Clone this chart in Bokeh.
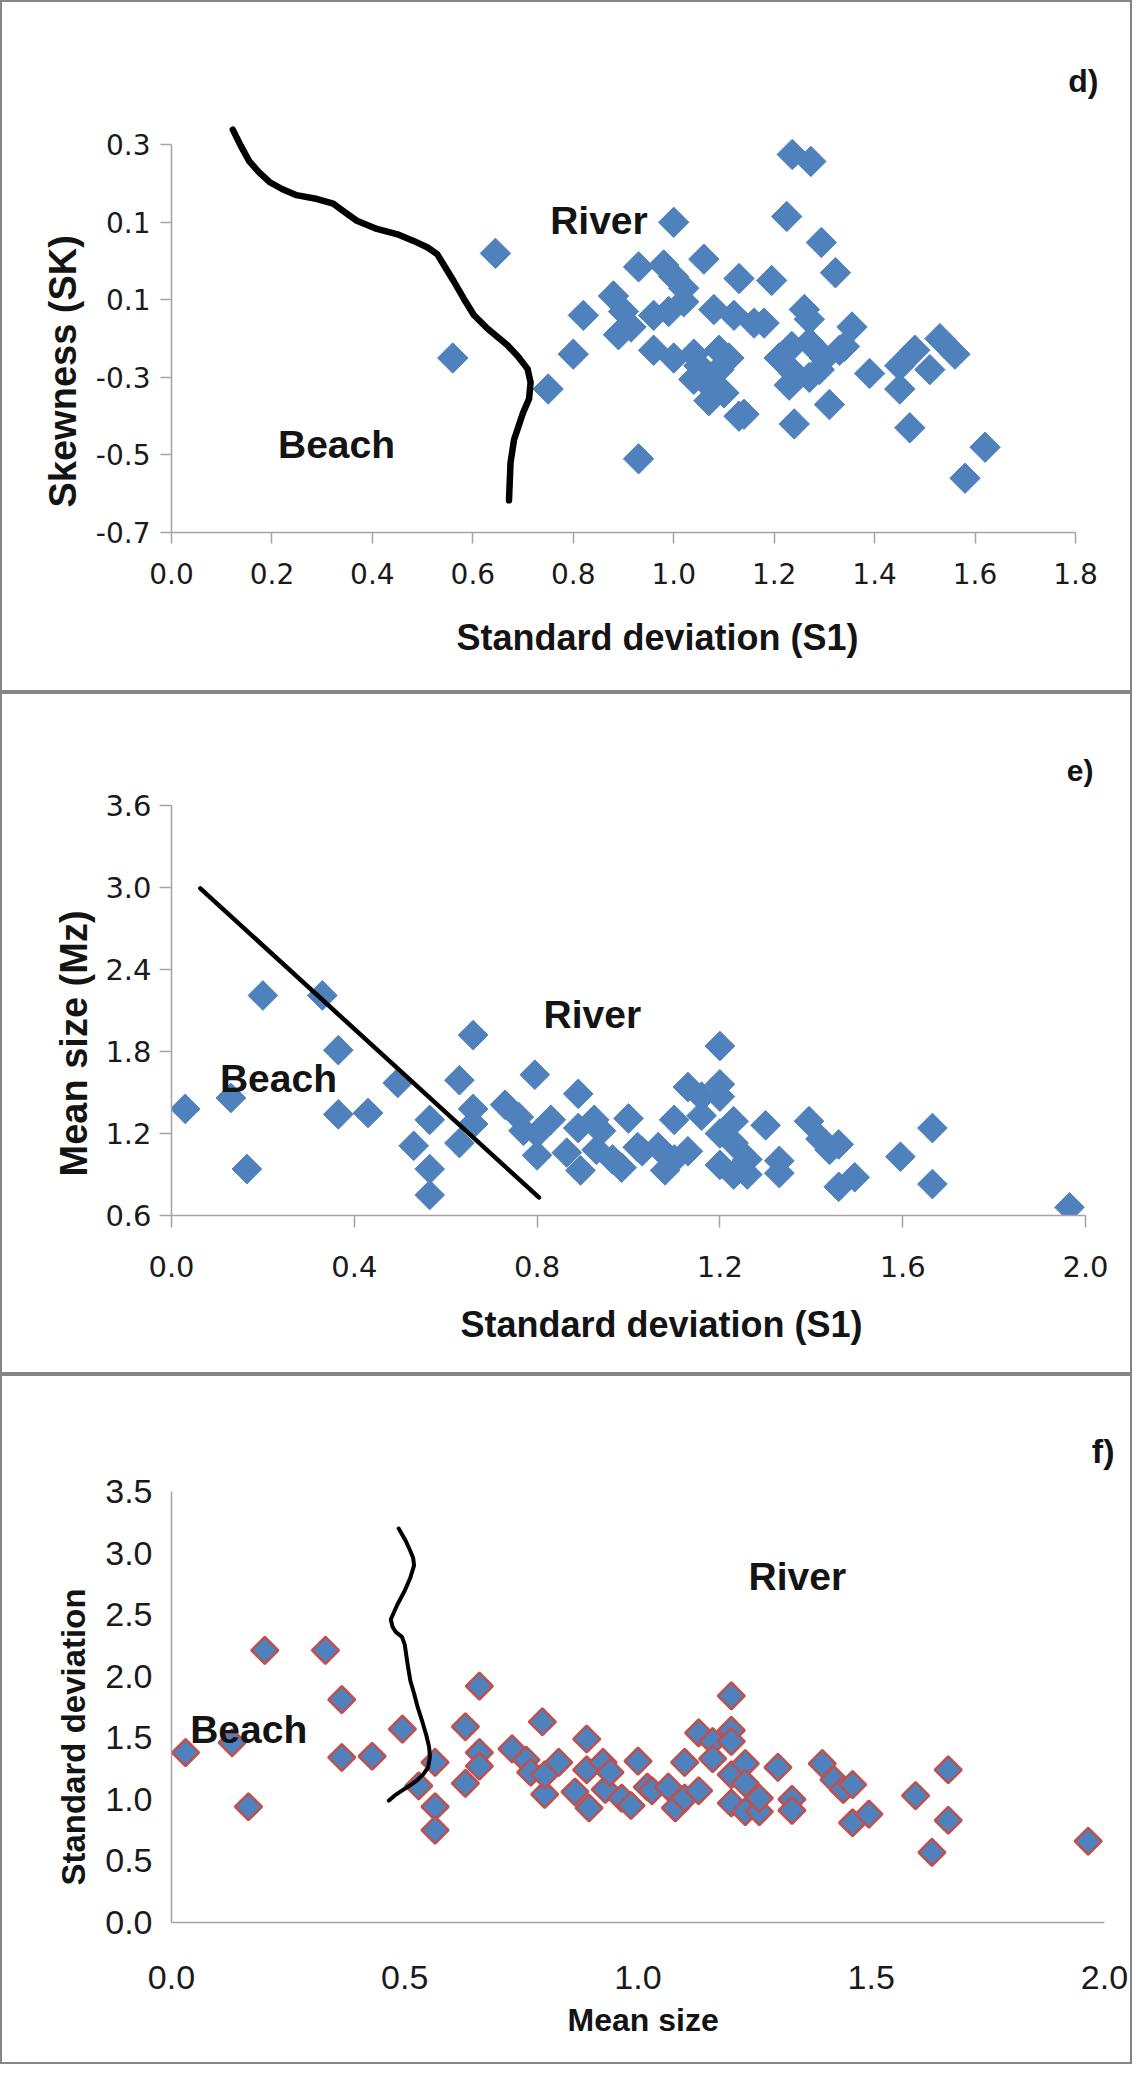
import math
from bokeh.plotting import figure
from bokeh.layouts import column
from bokeh.models import Range1d, FixedTicker, Label, Title
from bokeh.embed import file_html
from bokeh.resources import INLINE

# ---------------- data: panel d) ----------------
d_std_dev = [0.56, 0.645, 0.75, 0.80, 0.82, 0.88, 0.90, 0.89, 0.915, 0.93,
             0.93, 0.96, 0.96, 0.98, 0.99, 1.00, 1.00, 1.00, 1.02, 1.02,
             1.04, 1.04, 1.06, 1.05, 1.07, 1.07, 1.08, 1.09, 1.09, 1.10,
             1.11, 1.12, 1.13, 1.13, 1.14, 1.16, 1.18, 1.195, 1.21, 1.225,
             1.23, 1.235, 1.236, 1.24, 1.24, 1.26, 1.27, 1.27, 1.27, 1.273,
             1.29, 1.294, 1.30, 1.31, 1.322, 1.33, 1.34, 1.355, 1.39, 1.45,
             1.45, 1.47, 1.48, 1.51, 1.53, 1.56, 1.58, 1.62]
d_skewness = [-0.25, 0.02, -0.33, -0.24, -0.14, -0.09, -0.13, -0.19, -0.17, -0.015,
              -0.51, -0.14, -0.23, -0.01, -0.13, -0.25, -0.04, 0.10, -0.07, -0.105,
              -0.24, -0.305, 0.005, -0.27, -0.32, -0.36, -0.125, -0.23, -0.28, -0.34,
              -0.25, -0.14, -0.045, -0.40, -0.395, -0.16, -0.16, -0.05, -0.25, 0.115,
              -0.32, -0.22, 0.275, -0.29, -0.42, -0.125, -0.15, -0.21, -0.30, 0.257,
              -0.28, 0.048, -0.25, -0.37, -0.03, -0.23, -0.22, -0.17, -0.29, -0.27,
              -0.33, -0.43, -0.23, -0.28, -0.20, -0.24, -0.56, -0.48]
d_boundary_x = [0.122, 0.138, 0.155, 0.175, 0.195, 0.220, 0.249, 0.290, 0.322, 0.345,
                0.369, 0.409, 0.450, 0.482, 0.510, 0.529, 0.545, 0.562, 0.582, 0.602,
                0.629, 0.669, 0.690, 0.709, 0.715, 0.712, 0.700, 0.682, 0.675, 0.672]
d_boundary_y = [0.339, 0.297, 0.257, 0.228, 0.204, 0.186, 0.170, 0.160, 0.148, 0.126,
                0.104, 0.083, 0.069, 0.052, 0.035, 0.018, -0.016, -0.052, -0.097, -0.139,
                -0.174, -0.217, -0.246, -0.278, -0.313, -0.355, -0.391, -0.461, -0.521, -0.617]
d_x_ticks = [0.0, 0.2, 0.4, 0.6, 0.8, 1.0, 1.2, 1.4, 1.6, 1.8]
d_x_tick_labels = ["0.0", "0.2", "0.4", "0.6", "0.8", "1.0", "1.2", "1.4", "1.6", "1.8"]
d_y_ticks = [0.3, 0.1, -0.1, -0.3, -0.5, -0.7]
d_y_tick_labels = ["0.3", "0.1", "0.1", "-0.3", "-0.5", "-0.7"]

# ---------------- data: panels e) and f) (same plotted points) ----------------
ef_x = [0.03, 0.13, 0.165, 0.20, 0.33, 0.365, 0.365, 0.43, 0.495, 0.53,
        0.565, 0.565, 0.565, 0.63, 0.63, 0.66, 0.66, 0.66, 0.73, 0.76,
        0.77, 0.795, 0.80, 0.80, 0.83, 0.865, 0.89, 0.89, 0.895, 0.925,
        0.93, 0.94, 0.965, 0.985, 1.00, 1.02, 1.03, 1.065, 1.08, 1.10,
        1.10, 1.13, 1.13, 1.16, 1.16, 1.20, 1.20, 1.20, 1.20, 1.20,
        1.23, 1.23, 1.23, 1.26, 1.26, 1.30, 1.33, 1.33, 1.395, 1.42,
        1.44, 1.46, 1.46, 1.495, 1.595, 1.665, 1.665, 1.63, 1.965]
ef_y = [1.38, 1.46, 0.94, 2.21, 2.21, 1.81, 1.34, 1.35, 1.57, 1.11,
        1.30, 0.94, 0.75, 1.59, 1.13, 1.92, 1.38, 1.27, 1.41, 1.32,
        1.22, 1.63, 1.04, 1.20, 1.30, 1.06, 1.49, 1.24, 0.93, 1.30,
        1.08, 1.22, 1.01, 0.95, 1.31, 1.10, 1.07, 1.10, 0.93, 1.01,
        1.30, 1.07, 1.54, 1.47, 1.33, 1.84, 1.56, 1.47, 1.20, 0.97,
        1.29, 1.13, 0.90, 0.90, 1.01, 1.26, 1.00, 0.91, 1.29, 1.16,
        1.08, 1.12, 0.81, 0.88, 1.03, 1.24, 0.83, 0.57, 0.66]
e_boundary_x = [0.063, 0.804]
e_boundary_y = [2.994, 0.732]
e_x_ticks = [0.0, 0.4, 0.8, 1.2, 1.6, 2.0]
e_x_tick_labels = ["0.0", "0.4", "0.8", "1.2", "1.6", "2.0"]
e_y_ticks = [0.6, 1.2, 1.8, 2.4, 3.0, 3.6]
e_y_tick_labels = ["0.6", "1.2", "1.8", "2.4", "3.0", "3.6"]

f_boundary_x = [0.487, 0.502, 0.512, 0.518, 0.520, 0.512, 0.500, 0.484, 0.470, 0.474,
                0.481, 0.494, 0.500, 0.506, 0.512, 0.520, 0.527, 0.537, 0.546, 0.552,
                0.554, 0.550, 0.540, 0.527, 0.510, 0.493, 0.478, 0.466]
f_boundary_y = [3.199, 3.100, 3.017, 2.960, 2.900, 2.800, 2.695, 2.580, 2.461, 2.400,
                2.358, 2.320, 2.256, 2.100, 1.963, 1.860, 1.758, 1.640, 1.523, 1.430,
                1.347, 1.260, 1.205, 1.157, 1.110, 1.069, 1.030, 0.990]
f_x_ticks = [0.0, 0.5, 1.0, 1.5, 2.0]
f_x_tick_labels = ["0.0", "0.5", "1.0", "1.5", "2.0"]
f_y_ticks = [0.0, 0.5, 1.0, 1.5, 2.0, 2.5, 3.0, 3.5]
f_y_tick_labels = ["0.0", "0.5", "1.0", "1.5", "2.0", "2.5", "3.0", "3.5"]

assert len(d_std_dev) == len(d_skewness)
assert len(ef_x) == len(ef_y)
assert len(d_boundary_x) == len(d_boundary_y)
assert len(f_boundary_x) == len(f_boundary_y)

# ---------------- style ----------------
BLUE = "#4F81BD"
RED = "#C0504D"
AXIS_GREY = "#a3a3a3"
BORDER = "2px solid #858585"
BOLD_FONT = "Liberation Sans"
TEXT_COLOR = "#141414"


def make_fig(xr, yr, fw, fh, left, right, top, bottom):
    p = figure(frame_width=fw, frame_height=fh, x_range=Range1d(*xr), y_range=Range1d(*yr),
               min_border_left=left, min_border_right=right, min_border_top=top,
               min_border_bottom=bottom, output_backend="svg", toolbar_location=None)
    p.outline_line_color = None
    p.grid.visible = False
    p.background_fill_color = "white"
    p.border_fill_color = "white"
    p.styles = {"border": BORDER}
    return p


def style_axes(p, xt, xl, yt, yl, font, size, tick_out, xstand, ystand):
    for ax, ticks, labels, stand in ((p.xaxis[0], xt, xl, xstand), (p.yaxis[0], yt, yl, ystand)):
        ax.ticker = FixedTicker(ticks=ticks)
        ax.major_label_overrides = dict(zip(ticks, labels))
        ax.axis_line_color = AXIS_GREY
        ax.axis_line_width = 1.5
        ax.major_tick_line_color = AXIS_GREY if tick_out > 0 else None
        ax.major_tick_line_width = 1.5
        ax.major_tick_out = tick_out
        ax.major_tick_in = 0
        ax.minor_tick_line_color = None
        ax.major_label_text_font = font
        ax.major_label_text_font_size = f"{size}px"
        ax.major_label_text_color = "#1a1a1a"
        ax.major_label_standoff = stand


def add_text(p, x, y, text, size):
    p.add_layout(Label(x=x, y=y, text=text, text_font=BOLD_FONT, text_font_style="bold",
                       text_font_size=f"{size}px", text_color=TEXT_COLOR, text_align="left",
                       text_baseline="alphabetic"))


def set_titles(p, letter, letter_size, letter_offset, letter_standoff,
               xtitle, xsize, xoffset, xstandoff, ytitle, ysize, yoffset, ystandoff):
    t = p.title
    t.text = letter
    t.align = "right"
    t.offset = letter_offset
    t.standoff = letter_standoff
    t.text_font = BOLD_FONT
    t.text_font_style = "bold"
    t.text_font_size = f"{letter_size}px"
    t.text_color = TEXT_COLOR
    p.add_layout(Title(text=xtitle, align="left", offset=xoffset, standoff=xstandoff,
                       text_font=BOLD_FONT, text_font_style="bold",
                       text_font_size=f"{xsize}px", text_color=TEXT_COLOR), "below")
    p.add_layout(Title(text=ytitle, align="left", offset=yoffset, standoff=ystandoff,
                       text_font=BOLD_FONT, text_font_style="bold",
                       text_font_size=f"{ysize}px", text_color=TEXT_COLOR), "left")


# ---------------- panel d ----------------
pd_ = make_fig((0.0, 1.8), (-0.7, 0.36), 900, 407, 169, 59, 119, 162)
pd_.scatter(d_std_dev, d_skewness, marker="square", angle=math.pi / 4, size=21.5,
            fill_color=BLUE, line_color=BLUE, line_width=1)
pd_.line(d_boundary_x, d_boundary_y, line_color="black", line_width=6.5,
         line_join="round", line_cap="round")
style_axes(pd_, d_x_ticks, d_x_tick_labels, d_y_ticks, d_y_tick_labels,
           "DejaVu Sans", 28, 11, 19, 10)
pd_.yaxis[0].bounds = (-0.7, 0.3)
add_text(pd_, 0.754, 0.104, "River", 39)
add_text(pd_, 0.212, -0.473, "Beach", 39)
set_titles(pd_, "d)", 32, -23, 46,
           "Standard deviation (S1)", 36, 285, 57,
           "Skewness (SK)", 38, 25, 17)

# ---------------- panel e ----------------
e_keep = [i for i in range(len(ef_x)) if ef_y[i] >= e_y_ticks[0]]
pe = make_fig((0.0, 2.0), (0.6, 3.6), 910, 406, 169, 49, 111, 161)
pe.scatter([ef_x[i] for i in e_keep], [ef_y[i] for i in e_keep], marker="square",
           angle=math.pi / 4, size=21, fill_color=BLUE, line_color=BLUE, line_width=1)
pe.line(e_boundary_x, e_boundary_y, line_color="black", line_width=4.5, line_cap="round")
style_axes(pe, e_x_ticks, e_x_tick_labels, e_y_ticks, e_y_tick_labels,
           "DejaVu Sans", 29, 12, 28, 8)
add_text(pe, 0.814, 2.072, "River", 39)
add_text(pe, 0.106, 1.599, "Beach", 39)
set_titles(pe, "e)", 30, -8, 37,
           "Standard deviation (S1)", 36, 289, 44,
           "Mean size (Mz)", 38, 39, 15)

# ---------------- panel f ----------------
pf = make_fig((0.0, 2.0), (0.0, 3.5), 929, 427, 168, 31, 115, 144)
pf.scatter(ef_x, ef_y, marker="square", angle=math.pi / 4, size=19,
           fill_color=BLUE, line_color=RED, line_width=2.5)
pf.line(f_boundary_x, f_boundary_y, line_color="black", line_width=4,
        line_join="round", line_cap="round")
style_axes(pf, f_x_ticks, f_x_tick_labels, f_y_ticks, f_y_tick_labels,
           "Liberation Sans", 34, 0, 43, 19)
add_text(pf, 1.237, 2.807, "River", 39)
add_text(pf, 0.040, 1.568, "Beach", 39)
set_titles(pf, "f)", 34, -10, 43,
           "Mean size", 32, 396, 16,
           "Standard deviation", 33, 37, 22)

layout = column(pd_, pe, pf, spacing=0)
open("out.html", "w").write(file_html(layout, INLINE))
